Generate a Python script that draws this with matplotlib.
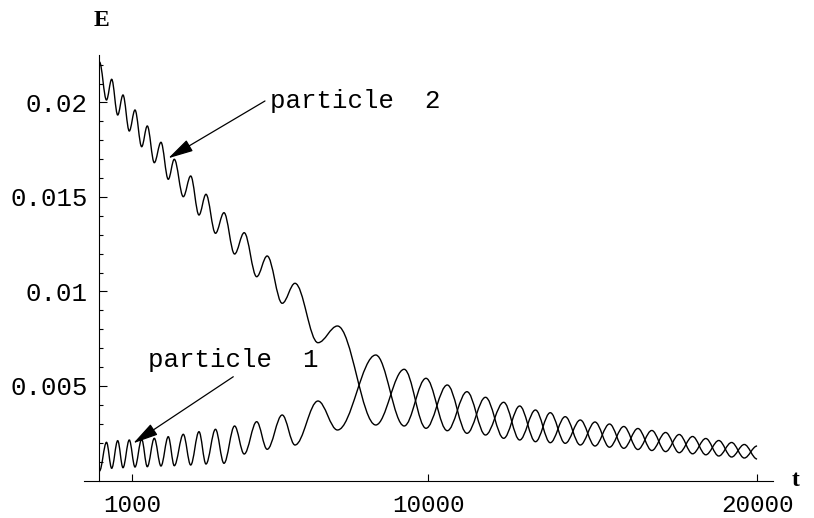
import matplotlib
matplotlib.use("Agg")
import matplotlib.pyplot as plt
from matplotlib.path import Path
from matplotlib.patches import PathPatch

# times of the extrema (both particles swap energy, so they share them)
t_ext = [0, 213, 371, 554, 715, 906, 1080, 1283, 1454, 1667, 1870, 2092, 2275,
         2549, 2774, 3026, 3239, 3528, 3786, 4109, 4401, 4781, 5100, 5557, 5946,
         6645, 7238, 8403, 9267, 9930, 10578, 11177, 11740, 12293, 12780, 13260,
         13710, 14164, 14623, 15070, 15511, 15946, 16375, 16798, 17217, 17631,
         18038, 18440, 18835, 19225, 19611, 20000]

e_particle1 = [0.000503, 0.002021, 0.000646, 0.002106, 0.000677, 0.002143,
               0.000714, 0.002180, 0.000730, 0.002233, 0.000767, 0.002317,
               0.000783, 0.002444, 0.000820, 0.002582, 0.000873, 0.002709,
               0.000910, 0.002884, 0.001402, 0.003111, 0.001651, 0.003466,
               0.001878, 0.004206, 0.002672, 0.006640, 0.002884, 0.005407,
               0.002635, 0.004698, 0.002407, 0.004138, 0.002143, 0.003730,
               0.002000, 0.003376, 0.001878, 0.003095, 0.001762, 0.002857,
               0.001640, 0.002646, 0.001529, 0.002434, 0.001413, 0.002222,
               0.001296, 0.002011, 0.001190, 0.001825]

e_particle2 = [0.022143, 0.020132, 0.021228, 0.019339, 0.020397, 0.018492,
               0.019603, 0.017661, 0.018757, 0.016815, 0.017894, 0.015937,
               0.016995, 0.015016, 0.016111, 0.014048, 0.015143, 0.013079,
               0.014169, 0.011984, 0.013111, 0.010783, 0.011878, 0.009376,
               0.010434, 0.007291, 0.008175, 0.002937, 0.005884, 0.002762,
               0.005053, 0.002497, 0.004402, 0.002233, 0.003942, 0.002053,
               0.003587, 0.001968, 0.003201, 0.001825, 0.002989, 0.001704,
               0.002751, 0.001587, 0.002540, 0.001471, 0.002328, 0.001360,
               0.002116, 0.001243, 0.001905, 0.001138]

x_ticks = [1000, 10000, 20000]
x_tick_labels = ['1000', '10000', '20000']
y_ticks = [0.005, 0.01, 0.015, 0.02]
y_tick_labels = ['0.005', '0.01', '0.015', '0.02']
y_minor = [i / 1000 for i in range(1, 23)]

mono = 'Liberation Mono'
serif = 'Liberation Serif'
fs = 18.5


def smooth_path(ts, es, k=0.36):
    # cubic pieces with flat tangents at each extremum
    verts = [(ts[0], es[0])]
    codes = [Path.MOVETO]
    for i in range(1, len(ts)):
        dt = ts[i] - ts[i - 1]
        verts += [(ts[i - 1] + k * dt, es[i - 1]), (ts[i] - k * dt, es[i]), (ts[i], es[i])]
        codes += [Path.CURVE4] * 3
    return Path(verts, codes)


fig = plt.figure(figsize=(8.14, 5.18), dpi=100)
ax = fig.add_axes([84 / 814, 37.5 / 518, 689 / 814, 425.5 / 518])
ax.set_xlim(-471, 20484)
ax.set_ylim(0, 0.022513)

for es in (e_particle1, e_particle2):
    ax.add_patch(PathPatch(smooth_path(t_ext, es), fill=False, lw=1.0, edgecolor='black'))

# Mathematica-like axes
ax.spines['top'].set_visible(False)
ax.spines['right'].set_visible(False)
ax.spines['left'].set_position(('data', 0))
for s in ('left', 'bottom'):
    ax.spines[s].set_linewidth(0.8)

ax.set_xticks(x_ticks)
ax.set_xticklabels(x_tick_labels, fontfamily=mono, fontsize=17.5)
ax.set_yticks(y_ticks)
ax.set_yticklabels(y_tick_labels, fontfamily=mono, fontsize=fs)
ax.set_yticks(y_minor, minor=True)
ax.tick_params(axis='x', direction='in', length=5, width=0.8, pad=10)
ax.tick_params(axis='y', which='major', direction='in', length=6, width=0.8, pad=8.3)
ax.tick_params(axis='y', which='minor', direction='in', length=3, width=0.8)

fig.text(101.7 / 814, 1 - 20.7 / 518, 'E', ha='center', va='center',
         fontsize=17, fontweight='bold', family=serif)
fig.text(796 / 814, 1 - 481 / 518, 't', ha='center', va='center',
         fontsize=17, fontweight='bold', family=serif)

arrow = dict(arrowstyle='-|>,head_length=1.3,head_width=0.33', mutation_scale=12,
             lw=0.9, color='black', shrinkA=0, shrinkB=0)
ax.annotate('', xy=(2092, 0.01705), xytext=(5033, 0.02008), arrowprops=arrow)
ax.text(5186, 0.02008, 'particle  2', ha='left', va='center', fontfamily=mono, fontsize=fs)
ax.annotate('', xy=(1028, 0.00197), xytext=(4069, 0.00549), arrowprops=arrow)
ax.text(1475, 0.00638, 'particle  1', ha='left', va='center', fontfamily=mono, fontsize=fs)

fig.savefig('out.png', dpi=100)
